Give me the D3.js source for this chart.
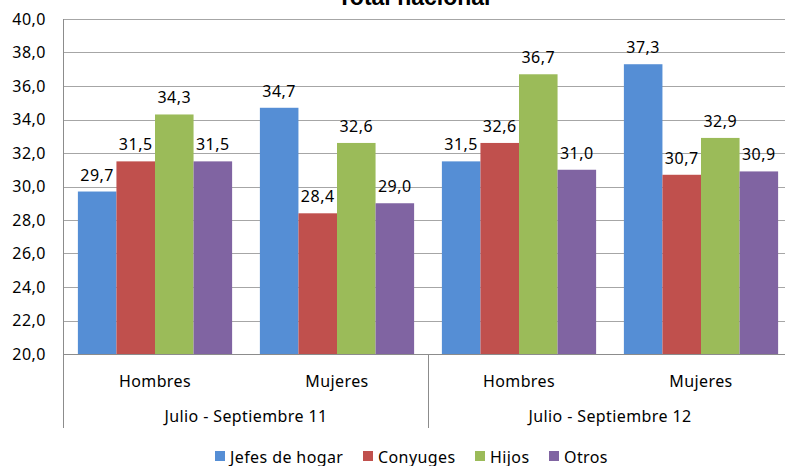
<!DOCTYPE html>
<html>
<head>
<meta charset="utf-8">
<script src="https://cdn.jsdelivr.net/npm/d3@7"></script>
<style>
  body { margin: 0; background: #fff; }
  text { font-family: "Noto Sans", sans-serif; fill: #000; }
</style>
</head>
<body>
<script>
// data
var periods = ["Julio - Septiembre 11", "Julio - Septiembre 12"];
var sexes = ["Hombres", "Mujeres"];
var series = ["Jefes de hogar", "Conyuges", "Hijos", "Otros"];
var colors = ["#558ed5", "#c0504d", "#9bbb59", "#8064a2"];
var jefes = [29.7, 34.7, 31.5, 37.3];
var conyuges = [31.5, 28.4, 32.6, 30.7];
var hijos = [34.3, 32.6, 36.7, 32.9];
var otros = [31.5, 29.0, 31.0, 30.9];
var values = [jefes, conyuges, hijos, otros];

var width = 785, height = 466;
var plotLeft = 64, plotRight = 792, plotTop = 19, plotBottom = 354;

var svg = d3.select("body").append("svg")
  .attr("width", width)
  .attr("height", height);

var groups = [];
periods.forEach(function(p) {
  sexes.forEach(function(s) { groups.push(p + "|" + s); });
});

var x0 = d3.scaleBand().domain(groups).range([plotLeft, plotRight]);
var xp = d3.scaleBand().domain(periods).range([plotLeft, plotRight]);
var x1 = d3.scaleBand().domain(series).range([0, x0.bandwidth()]).paddingOuter(0.36);
var y = d3.scaleLinear().domain([20, 40]).range([plotBottom, plotTop]);

var fmt = function(v) { return d3.format(".1f")(v).replace(".", ","); };

// title
svg.append("text")
  .attr("x", 414)
  .attr("y", 5)
  .attr("text-anchor", "middle")
  .style("font-family", "'Liberation Sans', Arial, sans-serif")
  .style("font-weight", "bold")
  .style("font-size", "23px")
  .text("Total nacional");

// gridlines
svg.append("g")
  .selectAll("line")
  .data(y.ticks(10))
  .enter()
  .append("line")
  .attr("x1", plotLeft).attr("x2", plotRight)
  .attr("y1", function(d) { return Math.round(y(d)) + 0.5; })
  .attr("y2", function(d) { return Math.round(y(d)) + 0.5; })
  .attr("stroke", function(d) { return d == 20 ? "#8c8c8c" : "#a6a6a6"; })
  .attr("stroke-width", 1);

// y labels
svg.append("g")
  .selectAll("text")
  .data(y.ticks(10))
  .enter()
  .append("text")
  .attr("x", 46)
  .attr("y", function(d) { return y(d); })
  .attr("dy", "0.36em")
  .attr("text-anchor", "end")
  .style("font-size", "16px")
  .style("letter-spacing", "0.5px")
  .text(fmt);

// bars
var bars = svg.append("g");
series.forEach(function(s, i) {
  bars.append("g")
    .selectAll("rect")
    .data(values[i])
    .enter()
    .append("rect")
    .attr("x", function(d, j) { return x0(groups[j]) + x1(s); })
    .attr("y", function(d) { return y(d); })
    .attr("width", x1.bandwidth())
    .attr("height", function(d) { return y(20) - y(d); })
    .attr("fill", colors[i]);

  bars.append("g")
    .selectAll("text")
    .data(values[i])
    .enter()
    .append("text")
    .attr("x", function(d, j) { return x0(groups[j]) + x1(s) + x1.bandwidth() / 2; })
    .attr("y", function(d) { return y(d) - 11; })
    .attr("text-anchor", "middle")
    .style("font-size", "16px")
    .style("letter-spacing", "0.5px")
    .text(fmt);
});

// axis lines
svg.append("line")
  .attr("x1", plotLeft - 0.5).attr("x2", plotLeft - 0.5)
  .attr("y1", plotTop).attr("y2", 428)
  .attr("stroke", "#8c8c8c");

svg.append("g")
  .selectAll("line")
  .data(periods)
  .enter()
  .append("line")
  .attr("x1", function(d) { return Math.round(xp(d) + xp.bandwidth()) + 0.5; })
  .attr("x2", function(d) { return Math.round(xp(d) + xp.bandwidth()) + 0.5; })
  .attr("y1", plotBottom).attr("y2", 428)
  .attr("stroke", "#8c8c8c");

// category labels
svg.append("g")
  .selectAll("text")
  .data(groups)
  .enter()
  .append("text")
  .attr("x", function(d) { return x0(d) + x0.bandwidth() / 2; })
  .attr("y", 387)
  .attr("text-anchor", "middle")
  .style("font-size", "16px")
  .style("letter-spacing", "0.4px")
  .text(function(d) { return d.split("|")[1]; });

svg.append("g")
  .selectAll("text")
  .data(periods)
  .enter()
  .append("text")
  .attr("x", function(d) { return xp(d) + xp.bandwidth() / 2; })
  .attr("y", 422)
  .attr("text-anchor", "middle")
  .style("font-size", "16px")
  .style("letter-spacing", "0.4px")
  .text(function(d) { return d; });

// legend
var legendX = [215, 363, 475, 549];
var legend = svg.append("g")
  .selectAll("g")
  .data(series)
  .enter()
  .append("g")
  .attr("transform", function(d, i) { return "translate(" + legendX[i] + ",451)"; });

legend.append("rect")
  .attr("width", 10).attr("height", 10)
  .attr("fill", function(d, i) { return colors[i]; });

legend.append("text")
  .attr("x", 15)
  .attr("y", 12)
  .style("font-size", "16px")
  .style("letter-spacing", "0.4px")
  .text(function(d) { return d; });
</script>
</body>
</html>
